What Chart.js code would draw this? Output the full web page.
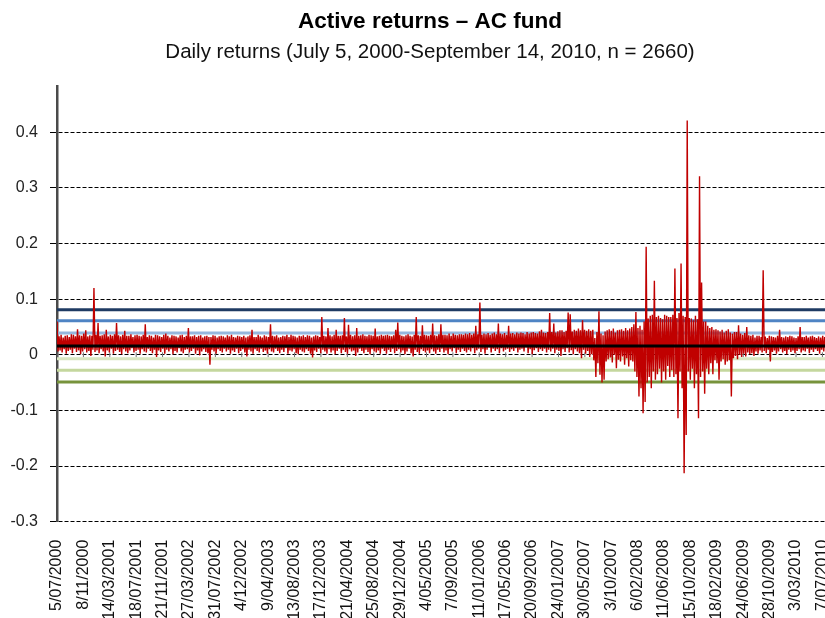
<!DOCTYPE html>
<html>
<head>
<meta charset="utf-8">
<title>Active returns – AC fund</title>
<script src="https://cdn.jsdelivr.net/npm/chart.js@4.4.1/dist/chart.umd.min.js"></script>
<style>
  html, body { margin: 0; padding: 0; background: #fff; overflow: hidden; }
  #wrap { width: 860px; height: 618px; }
</style>
</head>
<body>
<div id="wrap"><canvas id="returnsChart" width="860" height="618"></canvas></div>
<script>
// date labels, one every 90 trading days
const dateLabels = [
  '5/07/2000', '8/11/2000', '14/03/2001', '18/07/2001', '21/11/2001', '27/03/2002',
  '31/07/2002', '4/12/2002', '9/04/2003', '13/08/2003', '17/12/2003', '21/04/2004',
  '25/08/2004', '29/12/2004', '4/05/2005', '7/09/2005', '11/01/2006', '17/05/2006',
  '20/09/2006', '24/01/2007', '30/05/2007', '3/10/2007', '6/02/2008', '11/06/2008',
  '15/10/2008', '18/02/2009', '24/06/2009', '28/10/2009', '3/03/2010', '7/07/2010'
];
const labelStep = 90;
const totalDays = 2660;

// highest and lowest active return in each 7-trading-day window
const windowDays = 7;
const windowHigh = [
  0.060, 0.033, 0.036, 0.031, 0.034, 0.035, 0.032, 0.037, 0.036, 0.033, 0.046, 0.035, 0.034, 0.038, 0.044, 0.033, 0.035, 0.034, 0.120, 0.036,
  0.057, 0.034, 0.035, 0.037, 0.045, 0.033, 0.036, 0.034, 0.037, 0.057, 0.035, 0.033, 0.036, 0.043, 0.034, 0.034, 0.037, 0.032, 0.035, 0.036,
  0.034, 0.033, 0.036, 0.055, 0.032, 0.035, 0.034, 0.031, 0.036, 0.035, 0.033, 0.032, 0.036, 0.038, 0.034, 0.031, 0.035, 0.034, 0.033, 0.031,
  0.035, 0.036, 0.032, 0.034, 0.048, 0.033, 0.033, 0.035, 0.032, 0.034, 0.035, 0.031, 0.033, 0.034, 0.032, 0.032, 0.035, 0.034, 0.031, 0.033,
  0.034, 0.033, 0.031, 0.035, 0.033, 0.036, 0.032, 0.031, 0.034, 0.033, 0.032, 0.034, 0.031, 0.033, 0.035, 0.045, 0.032, 0.032, 0.036, 0.033,
  0.031, 0.035, 0.033, 0.032, 0.055, 0.034, 0.033, 0.035, 0.031, 0.032, 0.034, 0.033, 0.036, 0.032, 0.036, 0.034, 0.033, 0.031, 0.034, 0.033,
  0.035, 0.032, 0.035, 0.034, 0.031, 0.033, 0.035, 0.034, 0.032, 0.068, 0.034, 0.033, 0.048, 0.035, 0.033, 0.036, 0.045, 0.034, 0.034, 0.035,
  0.066, 0.033, 0.054, 0.036, 0.033, 0.035, 0.048, 0.034, 0.035, 0.037, 0.034, 0.033, 0.036, 0.035, 0.034, 0.047, 0.033, 0.034, 0.036, 0.034,
  0.035, 0.036, 0.034, 0.033, 0.035, 0.045, 0.058, 0.036, 0.034, 0.033, 0.035, 0.037, 0.034, 0.033, 0.036, 0.068, 0.035, 0.034, 0.053, 0.036,
  0.035, 0.034, 0.036, 0.056, 0.035, 0.034, 0.037, 0.055, 0.036, 0.036, 0.035, 0.038, 0.034, 0.038, 0.036, 0.035, 0.037, 0.037, 0.036, 0.038,
  0.037, 0.039, 0.036, 0.038, 0.052, 0.037, 0.094, 0.036, 0.038, 0.037, 0.039, 0.036, 0.038, 0.040, 0.037, 0.056, 0.038, 0.037, 0.039, 0.036,
  0.052, 0.038, 0.039, 0.037, 0.040, 0.038, 0.040, 0.039, 0.037, 0.041, 0.038, 0.040, 0.041, 0.039, 0.038, 0.042, 0.045, 0.040, 0.039, 0.041,
  0.075, 0.041, 0.056, 0.040, 0.042, 0.044, 0.044, 0.041, 0.043, 0.076, 0.073, 0.042, 0.045, 0.043, 0.047, 0.044, 0.062, 0.045, 0.043, 0.046,
  0.043, 0.045, 0.030, 0.041, 0.078, 0.038, 0.035, 0.042, 0.044, 0.046, 0.043, 0.047, 0.040, 0.044, 0.045, 0.046, 0.043, 0.048, 0.044, 0.047,
  0.050, 0.055, 0.077, 0.048, 0.052, 0.045, 0.060, 0.194, 0.065, 0.070, 0.072, 0.133, 0.068, 0.070, 0.066, 0.064, 0.072, 0.070, 0.068, 0.068,
  0.072, 0.155, 0.066, 0.075, 0.164, 0.070, 0.068, 0.421, 0.066, 0.065, 0.062, 0.070, 0.064, 0.321, 0.130, 0.060, 0.060, 0.052, 0.048, 0.050,
  0.045, 0.046, 0.044, 0.042, 0.045, 0.040, 0.043, 0.046, 0.040, 0.038, 0.041, 0.041, 0.053, 0.038, 0.036, 0.039, 0.050, 0.035, 0.034, 0.036,
  0.031, 0.034, 0.034, 0.032, 0.152, 0.033, 0.030, 0.034, 0.033, 0.032, 0.031, 0.034, 0.045, 0.032, 0.031, 0.033, 0.032, 0.034, 0.033, 0.031,
  0.030, 0.033, 0.050, 0.032, 0.032, 0.034, 0.031, 0.033, 0.034, 0.032, 0.030, 0.033, 0.031, 0.034, 0.032, 0.030, 0.033, 0.032, 0.031, 0.033
];
const windowLow = [
  0.006, 0.008, 0.004, 0.010, 0.002, 0.007, 0.009, 0.003, 0.011, 0.005, 0.008, 0.001, 0.006, 0.010, 0.004, 0.007, -0.002, 0.009, 0.005, 0.008,
  0.003, 0.010, 0.006, -0.003, 0.008, 0.004, 0.011, 0.002, 0.007, 0.009, 0.005, 0.001, 0.010, 0.006, 0.003, 0.008, 0.012, 0.004, 0.007, 0.009,
  0.002, 0.010, 0.006, 0.004, 0.011, 0.007, 0.003, 0.009, -0.004, 0.008, 0.005, 0.011, 0.002, 0.009, 0.006, 0.010, 0.001, 0.007, 0.004, 0.012,
  0.006, 0.003, 0.009, 0.010, 0.004, 0.007, 0.011, 0.002, 0.008, -0.001, 0.006, 0.010, 0.005, 0.003, -0.018, 0.009, 0.006, 0.002, 0.010, 0.007,
  0.004, 0.011, 0.006, 0.009, 0.002, 0.008, 0.005, 0.011, 0.003, 0.007, 0.010, 0.004, -0.003, 0.009, 0.006, 0.002, 0.010, 0.007, 0.004, 0.011,
  0.005, 0.008, 0.002, 0.010, 0.006, 0.004, 0.011, 0.007, 0.003, 0.009, 0.005, 0.012, 0.002, 0.008, 0.006, 0.010, 0.003, 0.001, 0.009, 0.006,
  0.004, 0.010, 0.007, 0.002, -0.005, 0.008, 0.005, 0.011, 0.003, 0.009, 0.006, 0.002, 0.010, 0.004, 0.008, 0.001, 0.007, 0.011, 0.003, 0.009,
  0.005, 0.002, 0.010, 0.006, 0.008, -0.002, 0.004, 0.011, 0.007, 0.003, 0.009, 0.005, 0.001, 0.010, 0.006, 0.004, 0.008, 0.002, 0.011, 0.007,
  0.002, 0.009, 0.005, 0.011, 0.003, 0.007, 0.010, 0.004, 0.008, 0.001, 0.006, 0.011, 0.003, -0.003, 0.009, 0.005, 0.002, 0.010, 0.007, 0.004,
  0.008, 0.003, 0.010, 0.006, 0.002, 0.009, 0.005, 0.011, 0.004, 0.008, 0.001, 0.010, 0.006, 0.012, 0.003, 0.009, 0.005, 0.011, 0.007, 0.004,
  0.009, 0.006, 0.012, 0.003, 0.008, 0.011, 0.005, 0.010, 0.002, 0.009, 0.013, 0.004, 0.011, 0.007, 0.010, 0.003, 0.012, 0.006, 0.009, 0.011,
  0.005, 0.010, 0.007, 0.012, 0.004, 0.009, 0.011, 0.006, 0.013, 0.003, 0.010, 0.001, 0.008, 0.012, 0.005, 0.010, 0.007, 0.011, 0.004, 0.009,
  0.006, 0.011, 0.003, 0.009, 0.007, -0.002, 0.010, 0.005, 0.012, 0.004, 0.008, 0.001, 0.010, 0.006, 0.003, -0.006, 0.009, 0.002, 0.007, -0.004,
  0.001, -0.010, -0.040, -0.015, -0.036, -0.050, -0.045, -0.012, -0.008, -0.005, -0.014, 0.000, -0.024, -0.009, -0.012, -0.003, -0.018, -0.006, -0.021, -0.010,
  -0.012, -0.030, -0.040, -0.075, -0.060, -0.105, -0.085, -0.050, -0.040, -0.060, -0.030, -0.045, -0.035, -0.025, -0.050, -0.030, -0.045, -0.020, -0.040, -0.028,
  -0.040, -0.035, -0.114, -0.030, -0.060, -0.213, -0.144, -0.030, -0.045, -0.025, -0.060, -0.035, -0.114, -0.040, -0.030, -0.070, -0.025, -0.035, -0.015, -0.035,
  -0.010, -0.015, -0.045, -0.012, -0.008, -0.018, -0.012, -0.010, -0.075, -0.006, -0.002, -0.008, 0.000, -0.004, 0.002, -0.003, 0.004, 0.001, 0.003, -0.002,
  0.006, 0.002, 0.008, 0.004, 0.007, 0.003, 0.009, -0.012, 0.005, 0.008, 0.002, 0.006, 0.010, 0.004, 0.007, 0.001, 0.009, 0.005, 0.008, 0.003,
  0.007, 0.010, 0.004, 0.008, 0.006, 0.011, 0.003, 0.009, 0.005, 0.010, 0.007, 0.002, 0.009, 0.006, 0.011, 0.004, 0.008, 0.010, 0.005, 0.009
];

// mean and +/- 1, 2, 3 sd bands
const meanReturn = 0.016;
const bandLevels = [0.081, 0.061, 0.039, -0.007, -0.028, -0.049];
const bandColors = ['#1F3B63', '#4F84C4', '#95B7DE', '#D9E6C1', '#C4D79E', '#77933C'];

const yTicks = [-0.3, -0.2, -0.1, 0, 0.1, 0.2, 0.3, 0.4];

document.addEventListener('DOMContentLoaded', function() {
  const ctx = document.getElementById('returnsChart').getContext('2d');
  const lastDay = totalDays - 1;

  const flat = (v) => [{ x: 0, y: v }, { x: lastDay, y: v }];

  // high then low of every window, in day order
  const returnPoints = [];
  windowHigh.forEach((hi, i) => {
    returnPoints.push({ x: i * windowDays, y: hi });
    returnPoints.push({ x: i * windowDays + windowDays / 2, y: windowLow[i] });
  });

  const datasets = [];
  datasets.push({
    label: 'Mean',
    data: flat(meanReturn),
    borderColor: '#000000',
    borderWidth: 3,
    pointRadius: 0,
    order: 0
  });
  datasets.push({
    label: 'Active return',
    data: returnPoints,
    borderColor: '#C00000',
    borderWidth: 1.4,
    pointRadius: 0,
    order: 1
  });
  bandLevels.forEach((lvl, i) => {
    datasets.push({
      label: 'Band ' + i,
      data: flat(lvl),
      borderColor: bandColors[i],
      borderWidth: 3,
      pointRadius: 0,
      order: 2
    });
  });
  // small category tick marks on the zero line
  datasets.push({
    label: 'ticks',
    data: dateLabels.map((_, k) => ({ x: k * labelStep, y: 0 })),
    showLine: false,
    pointStyle: 'line',
    rotation: 90,
    pointRadius: 2.5,
    borderColor: '#707070',
    borderWidth: 1,
    order: 3
  });

  new Chart(ctx, {
    type: 'line',
    data: { datasets: datasets },
    options: {
      responsive: false,
      animation: false,
      layout: { padding: 0 },
      plugins: {
        legend: { display: false },
        tooltip: { enabled: false },
        title: {
          display: true,
          text: 'Active returns – AC fund',
          color: '#000',
          font: { family: 'Liberation Sans, Arial, sans-serif', size: 22.5, weight: 'bold', lineHeight: 1.2 },
          padding: { top: 8, bottom: 3 }
        },
        subtitle: {
          display: true,
          text: 'Daily returns (July 5, 2000-September 14, 2010, n = 2660)',
          color: '#111',
          font: { family: 'Liberation Sans, Arial, sans-serif', size: 20.5, lineHeight: 1.2 },
          padding: { top: 2, bottom: 22 }
        }
      },
      scales: {
        x: {
          type: 'linear',
          min: 0,
          max: lastDay,
          afterBuildTicks: function(axis) {
            axis.ticks = dateLabels.map((_, k) => ({ value: k * labelStep }));
          },
          afterFit: function(scale) {
            scale.height = 618 - 521.7;
          },
          grid: { display: false, drawTicks: false },
          border: { display: false },
          ticks: {
            autoSkip: false,
            maxRotation: 90,
            minRotation: 90,
            padding: 18,
            color: '#111',
            font: { family: 'Liberation Sans, Arial, sans-serif', size: 16 },
            callback: function(value, index) {
              return dateLabels[index];
            }
          }
        },
        y: {
          min: -0.3,
          max: 0.482,
          afterBuildTicks: function(axis) {
            axis.ticks = yTicks.map(v => ({ value: v }));
          },
          afterFit: function(scale) {
            scale.width = 57;
          },
          grid: {
            color: '#000',
            lineWidth: 1,
            tickLength: 7,
            tickColor: '#000'
          },
          border: { display: true, color: '#4a4a4a', width: 2.5, dash: [4, 2] },
          ticks: {
            padding: 12,
            color: '#222',
            font: { family: 'Liberation Sans, Arial, sans-serif', size: 16 },
            callback: function(value) {
              return Math.abs(value) < 1e-9 ? '0' : value.toFixed(1);
            }
          }
        },
        // empty strip on the right so the plot ends where the original does
        yRight: {
          position: 'right',
          min: -0.3,
          max: 0.482,
          grid: { display: false, drawTicks: false },
          border: { display: false },
          ticks: { display: false },
          afterFit: function(scale) {
            scale.width = 21;
          }
        }
      }
    }
  });
});
</script>
</body>
</html>
